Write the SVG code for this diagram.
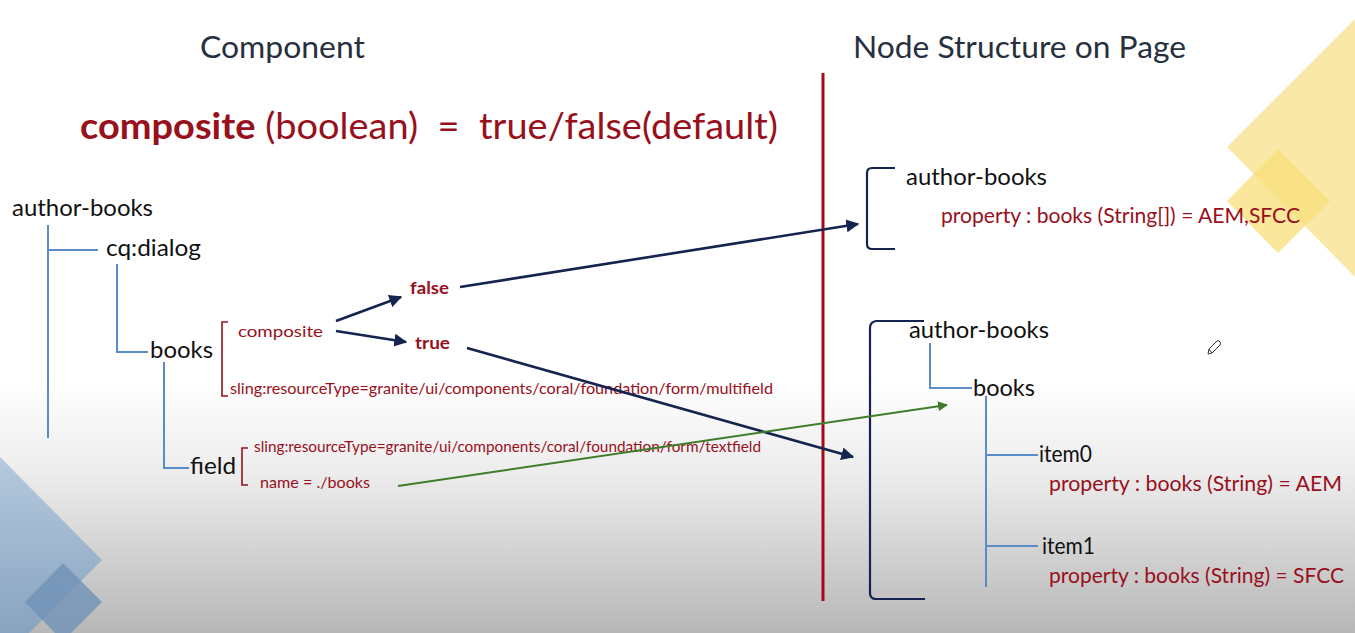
<svg xmlns="http://www.w3.org/2000/svg" width="1355" height="633" viewBox="0 0 1355 633">
  <defs>
    <linearGradient id="bg" x1="0" y1="0" x2="0" y2="1">
      <stop offset="0" stop-color="#ffffff"/>
      <stop offset="0.6" stop-color="#ffffff"/>
      <stop offset="0.75" stop-color="#ececec"/>
      <stop offset="1" stop-color="#b7b7b7"/>
    </linearGradient>
    <linearGradient id="blueBig" x1="0" y1="0" x2="0" y2="1">
      <stop offset="0" stop-color="#b2c8dd"/>
      <stop offset="1" stop-color="#86a2c0"/>
    </linearGradient>
    <marker id="arrNavy" viewBox="0 0 10 10" refX="9" refY="5" markerWidth="5" markerHeight="5" orient="auto">
      <path d="M0,0 L10,5 L0,10 Z" fill="#14244f"/>
    </marker>
    <marker id="arrGreen" viewBox="0 0 10 10" refX="9" refY="5" markerWidth="5" markerHeight="5" orient="auto">
      <path d="M0,0 L10,5 L0,10 Z" fill="#3f7d2c"/>
    </marker>
    <style>
      text { font-family: Lato, "Open Sans", "Liberation Sans", sans-serif; }
      .head { font-size: 30px; fill: #26303e; }
      .node { font-size: 24px; fill: #111111; }
      .red { fill: #98101c; }
      .prop { font-size: 21px; fill: #98101c; }
      .small { font-size: 16px; fill: #98101c; }
      .tree { fill: none; stroke: #5a8dc8; stroke-width: 2; }
      .brkRed { fill: none; stroke: #98101c; stroke-width: 1.6; }
      .brkNavy { fill: none; stroke: #14244f; stroke-width: 2.2; }
      .navy { fill: none; stroke: #14244f; stroke-width: 2.6; marker-end: url(#arrNavy); }
      .green { fill: none; stroke: #3f7d2c; stroke-width: 2; marker-end: url(#arrGreen); }
    </style>
  </defs>

  <!-- backdrop -->
  <rect x="0" y="0" width="1355" height="633" fill="url(#bg)"/>

  <!-- decorative diamonds, top right -->
  <g id="deco-yellow">
    <path d="M1227,147 L1355,19 L1355,277 Z" fill="#fae79c" opacity="0.9"/>
    <path d="M1278,149 L1330,201 L1278,253 L1227,201 Z" fill="#f8df7a" opacity="0.75"/>
  </g>
  <!-- decorative diamonds, bottom left -->
  <g id="deco-blue">
    <path d="M0,457 L102,560 L29,633 L0,633 Z" fill="url(#blueBig)" opacity="0.95"/>
    <path d="M63,563 L102,602 L71,633 L55,633 L25,602 Z" fill="#6f92b6" opacity="0.8"/>
  </g>

  <!-- column headings -->
  <g id="headings">
    <text class="head" x="200" y="58" textLength="165" lengthAdjust="spacingAndGlyphs">Component</text>
    <text class="head" x="853" y="58" textLength="333" lengthAdjust="spacingAndGlyphs">Node Structure on Page</text>
  </g>

  <g id="title">
    <text x="80" y="139" font-size="37" class="red" xml:space="preserve" style="white-space:pre" textLength="698" lengthAdjust="spacingAndGlyphs"><tspan font-weight="bold">composite</tspan> (boolean)  =  true/false(default)</text>
  </g>

  <!-- divider between the two columns -->
  <line id="divider" x1="823" y1="73" x2="823" y2="601" stroke="#a20a18" stroke-width="3"/>

  <!-- component tree -->
  <g id="tree-lines">
    <path class="tree" d="M48,225 V438 M48,250 H98"/>
    <path class="tree" d="M117,264 V352 H148"/>
    <path class="tree" d="M164,362 V468 H189"/>
  </g>

  <g id="node-author-books">
    <text class="node" x="12" y="216" textLength="141" lengthAdjust="spacingAndGlyphs">author-books</text>
  </g>
  <g id="node-cq-dialog">
    <text class="node" x="106" y="256" textLength="95" lengthAdjust="spacingAndGlyphs">cq:dialog</text>
  </g>
  <g id="node-books">
    <text class="node" x="150" y="358" textLength="63" lengthAdjust="spacingAndGlyphs">books</text>
    <path class="brkRed" d="M228,322 H222 V396 H228"/>
    <text class="small" x="238" y="337" font-size="18" textLength="85" lengthAdjust="spacingAndGlyphs">composite</text>
    <text class="small" x="230" y="394" textLength="543" lengthAdjust="spacingAndGlyphs">sling:resourceType=granite/ui/components/coral/foundation/form/multifield</text>
  </g>
  <g id="node-field">
    <text class="node" x="190" y="474" textLength="46" lengthAdjust="spacingAndGlyphs">field</text>
    <path class="brkRed" d="M248,448 H242 V485 H248"/>
    <text class="small" x="254" y="452" textLength="507" lengthAdjust="spacingAndGlyphs">sling:resourceType=granite/ui/components/coral/foundation/form/textfield</text>
    <text class="small" x="260" y="488" textLength="110" lengthAdjust="spacingAndGlyphs">name = ./books</text>
  </g>

  <g id="value-false">
    <text x="410" y="294" font-size="17" font-weight="bold" class="red" textLength="39" lengthAdjust="spacingAndGlyphs">false</text>
  </g>
  <g id="value-true">
    <text x="415" y="349" font-size="17" font-weight="bold" class="red" textLength="35" lengthAdjust="spacingAndGlyphs">true</text>
  </g>

  <!-- page structure, composite = false -->
  <g id="page-false">
    <path class="brkNavy" d="M895,168 H872 Q867,168 867,173 V244 Q867,249 872,249 H895"/>
    <text class="node" x="906" y="185" textLength="141" lengthAdjust="spacingAndGlyphs">author-books</text>
    <text class="prop" x="941" y="223" textLength="359" lengthAdjust="spacingAndGlyphs">property : books (String[]) = AEM,SFCC</text>
  </g>

  <!-- page structure, composite = true -->
  <g id="page-true">
    <path class="brkNavy" d="M924,321 H876 Q870,322 870,328 V593 Q870,599 876,599 H925"/>
    <path class="tree" d="M930,343 V388 H972"/>
    <path class="tree" d="M986,396 V587 M986,455 H1038 M986,546 H1038"/>
    <text class="node" x="909" y="338" textLength="140" lengthAdjust="spacingAndGlyphs">author-books</text>
    <text class="node" x="973" y="396" textLength="62" lengthAdjust="spacingAndGlyphs">books</text>
    <text class="node" x="1039" y="462" font-size="20" textLength="53" lengthAdjust="spacingAndGlyphs">item0</text>
    <text class="prop" x="1049" y="491" textLength="293" lengthAdjust="spacingAndGlyphs">property : books (String) = AEM</text>
    <text class="node" x="1042" y="554" font-size="20" textLength="53" lengthAdjust="spacingAndGlyphs">item1</text>
    <text class="prop" x="1049" y="583" textLength="295" lengthAdjust="spacingAndGlyphs">property : books (String) = SFCC</text>
  </g>

  <!-- connectors -->
  <g id="connectors">
    <line class="navy" x1="336" y1="321" x2="401" y2="297"/>
    <line class="navy" x1="336" y1="331" x2="406" y2="342"/>
    <line class="navy" x1="460" y1="287" x2="858" y2="224"/>
    <line class="navy" x1="467" y1="348" x2="853" y2="457"/>
    <line class="green" x1="398" y1="486" x2="947" y2="405"/>
  </g>

  <!-- pencil cursor -->
  <g id="pencil" fill="none" stroke="#333333" stroke-width="1">
    <path d="M1208,354 L1209,349 L1217,341 Q1219,340 1220,342 Q1221,343 1220,345 L1212,353 Z M1209,349 L1212,353"/>
  </g>
</svg>
